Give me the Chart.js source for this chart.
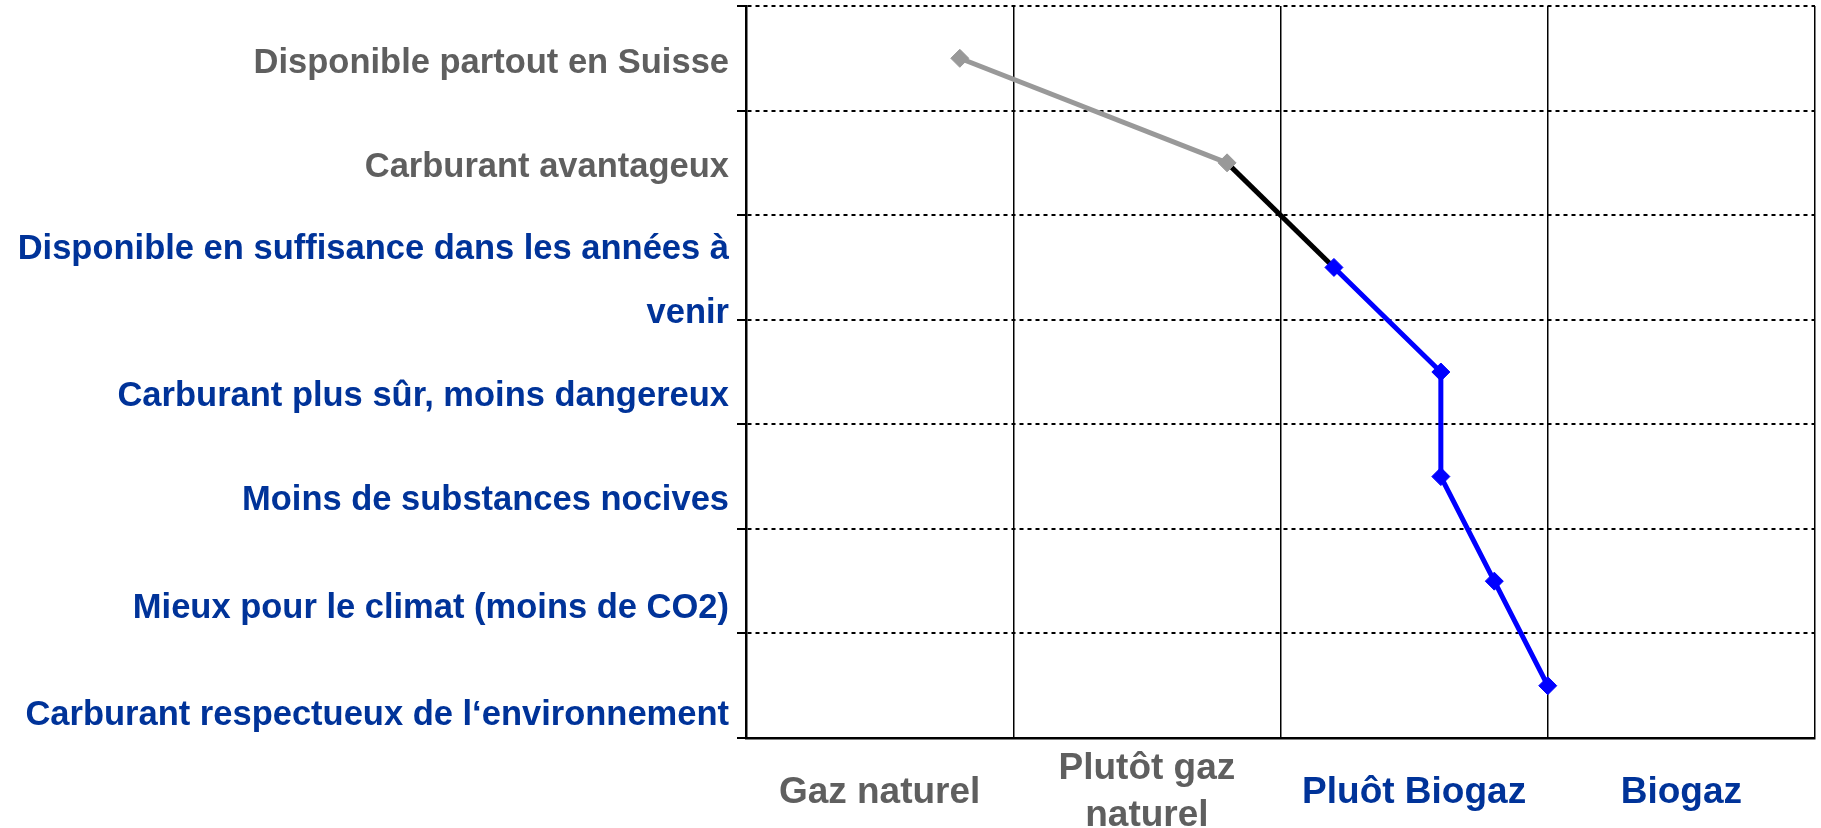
<!DOCTYPE html>
<html>
<head>
<meta charset="utf-8">
<script src="https://cdn.jsdelivr.net/npm/chart.js@4/dist/chart.umd.min.js"></script>
<style>
  html, body { margin: 0; padding: 0; background: #fff; }
  #wrap { width: 1821px; height: 828px; }
</style>
</head>
<body>
<div id="wrap"><canvas id="chart"></canvas></div>
<script>
// statements (top to bottom)
const statements = [
  'Disponible partout en Suisse',
  'Carburant avantageux',
  ['Disponible en suffisance dans les années à', 'venir'],
  'Carburant plus sûr, moins dangereux',
  'Moins de substances nocives',
  'Mieux pour le climat (moins de CO2)',
  'Carburant respectueux de l‘environnement'
]
// average position on the 1..5 scale
const scores = [1.8, 2.8, 3.2, 3.6, 3.6, 3.8, 4.0]
// answer scale, one label per column
const scaleLabels = ['Gaz naturel', ['Plutôt gaz', 'naturel'], 'Pluôt Biogaz', 'Biogaz']
const scaleMin = 1
const scaleMax = 5

const GREY_TEXT = '#5f5f5f'
const BLUE_TEXT = '#003399'
const GREY = '#999999'
const BLUE = '#0000ff'

const rowColors = [GREY_TEXT, GREY_TEXT, BLUE_TEXT, BLUE_TEXT, BLUE_TEXT, BLUE_TEXT, BLUE_TEXT]
const colColors = [GREY_TEXT, GREY_TEXT, BLUE_TEXT, BLUE_TEXT]
const pointColors = [GREY, GREY, BLUE, BLUE, BLUE, BLUE, BLUE]

const font = 'Liberation Sans, Arial, sans-serif'

// in the original the row labels drift down below the wrapped one (px)
const labelNudge = [5, 5, 14, 24, 24, 27, 30]

const nudgeRowLabels = {
  id: 'nudgeRowLabels',
  beforeDraw(chart) {
    const items = chart.scales.y.getLabelItems()
    items.forEach((item, i) => {
      if (!item.nudged) {
        item.options.translation[1] += labelNudge[i] || 0
        item.nudged = true
      }
    })
  }
}

new Chart(document.getElementById('chart'), {
  type: 'line',
  data: {
    labels: statements,
    datasets: [{
      data: scores,
      borderWidth: 5,
      borderColor: BLUE,
      segment: {
        borderColor: ctx => ctx.p0DataIndex === 0 ? GREY : ctx.p0DataIndex === 1 ? '#000' : BLUE
      },
      pointStyle: 'rectRot',
      pointRadius: 9,
      pointBorderWidth: 1,
      pointBackgroundColor: pointColors,
      pointBorderColor: pointColors,
      tension: 0
    }]
  },
  options: {
    indexAxis: 'y',
    responsive: true,
    maintainAspectRatio: false,
    animation: false,
    layout: { autoPadding: false, padding: { top: 6, right: 6, left: 0, bottom: 0 } },
    plugins: { legend: { display: false }, tooltip: { enabled: false } },
    scales: {
      y: {
        type: 'category',
        offset: true,
        grid: {
          offset: true,
          color: '#000',
          lineWidth: 2,
          tickLength: 9,
          tickColor: '#000',
          tickWidth: 2,
          tickBorderDash: []
        },
        border: { display: true, color: '#000', width: 2.5, dash: [4, 4] },
        ticks: {
          autoSkip: false,
          padding: 8,
          color: ctx => rowColors[ctx.index],
          font: { family: font, size: 34.5, weight: 'bold', lineHeight: 1.83 }
        },
        afterFit: scale => {
          scale.width = 746
          scale.paddingTop = 0
          scale.paddingBottom = 0
        }
      },
      x: {
        type: 'linear',
        min: scaleMin,
        max: scaleMax,
        ticks: { display: false, stepSize: 1 },
        grid: { color: '#000', lineWidth: 1.5, drawTicks: false },
        border: { display: true, color: '#000', width: 2.5 },
        afterFit: scale => { scale.height = 0 }
      },
      xLabels: {
        type: 'category',
        position: 'bottom',
        labels: scaleLabels,
        offset: true,
        grid: { display: false, drawTicks: false },
        border: { display: false },
        ticks: {
          autoSkip: false,
          maxRotation: 0,
          padding: 31,
          crossAlign: 'center',
          color: ctx => colColors[ctx.index],
          font: { family: font, size: 37, weight: 'bold', lineHeight: 1.27 }
        },
        afterFit: scale => {
          scale.height = 90
          scale.paddingLeft = 0
          scale.paddingRight = 0
        }
      }
    }
  },
  plugins: [nudgeRowLabels]
})
</script>
</body>
</html>
